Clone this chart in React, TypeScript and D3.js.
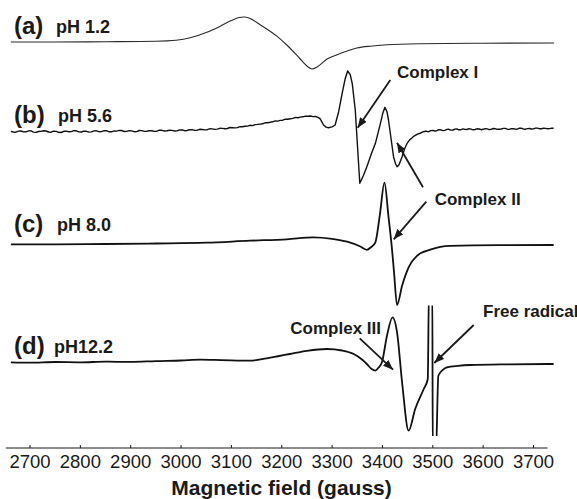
import React from "react";
import * as d3 from "d3";

// ---- Data (magnetic field in gauss, signal in arbitrary units) ----
const fieldTicks = [2700, 2800, 2900, 3000, 3100, 3200, 3300, 3400, 3500, 3600, 3700];

const specA: [number, number][] = [
  [2662, 0], [2750, 0], [2850, 0.3], [2950, 0.8], [2990, 1.8], [3020, 4.5], [3050, 9.5],
  [3077, 15.6], [3100, 21.5], [3115, 24.5], [3125, 25], [3135, 24], [3157, 17.3], [3191, 5.6],
  [3212, -4], [3235, -16], [3250, -24], [3260, -27], [3270, -25], [3290, -17], [3310, -12.7],
  [3330, -9], [3349, -6], [3380, -4], [3409, -2.7], [3475, -1.7], [3600, -1.2], [3741, -1],
];

const specB: [number, number][] = [
  [2662, 0.4], [2667, -0.3], [2672, -0.5], [2677, 0.6], [2682, 0.7], [2687, -0.2], [2692, -0.1],
  [2697, 0.8], [2702, 0.9], [2707, -0.4], [2712, -0.7], [2717, 0.2], [2722, 0.3], [2727, 0.9],
  [2732, 0.7], [2737, -0.3], [2742, -0.5], [2747, 0.5], [2752, 0.3], [2757, -0.6], [2762, -0.8],
  [2767, 0.4], [2772, 0.6], [2777, -0.1], [2782, 0.1], [2787, 1.0], [2792, 0.9], [2797, -0.2],
  [2802, -0.3], [2807, 0.6], [2812, 0.4], [2817, -0.4], [2822, -0.2], [2827, 0.8], [2832, 0.9],
  [2837, 0.0], [2842, 0.1], [2847, 1.1], [2852, 1.0], [2857, -0.1], [2862, -0.1], [2867, 0.8],
  [2872, 0.6], [2877, 1.3], [2882, 1.2], [2887, 0.2], [2892, 0.3], [2897, 1.0], [2902, 0.8],
  [2907, 0.0], [2912, 0.1], [2917, 1.2], [2922, 1.1], [2927, 0.3], [2932, 0.5], [2937, 1.1],
  [2942, 0.9], [2947, 0.3], [2952, 0.5], [2957, 1.5], [2962, 1.4], [2967, 0.7], [2972, 0.9],
  [2977, 1.5], [2982, 1.3], [2987, 0.7], [2992, 0.8], [2997, 1.8], [3002, 1.7], [3007, 1.0],
  [3012, 1.2], [3017, 2.1], [3022, 2.0], [3027, 1.3], [3032, 1.5], [3037, 2.4], [3042, 2.2],
  [3047, 1.8], [3052, 2.0], [3057, 2.9], [3062, 2.8], [3067, 2.3], [3072, 2.6], [3077, 3.4],
  [3082, 3.3], [3087, 2.9], [3092, 3.2], [3097, 4.2], [3102, 4.0], [3107, 3.8], [3112, 4.1],
  [3117, 5.0], [3122, 4.9], [3127, 5.4], [3132, 5.6], [3137, 6.4], [3142, 6.1], [3147, 7.1],
  [3152, 7.3], [3157, 7.6], [3162, 7.9], [3167, 8.9], [3172, 9.0], [3177, 9.4], [3182, 9.9],
  [3187, 10.8], [3192, 10.6], [3197, 11.3], [3202, 11.5], [3207, 12.6], [3212, 12.5], [3217, 13.0],
  [3222, 13.3], [3227, 14.3], [3232, 14.0], [3237, 14.6], [3242, 14.9], [3247, 15.6], [3252, 15.4],
  [3257, 15.7], [3262, 15.1], [3267, 15.2], [3272, 14.3],
  [3276, 13], [3280, 9.5], [3283, 6.7], [3288, 4.6], [3293, 4], [3300, 4.8], [3306, 6.7],
  [3313, 20], [3320, 38.4], [3326, 53], [3331, 60.7], [3336, 57], [3340, 48.4], [3346, 21.7],
  [3355, -51.6], [3362, -44], [3369, -35], [3378, -22], [3386, -11.6], [3396, 8.4], [3401, 19],
  [3405, 24.4], [3409, 20], [3412, 11.7], [3422, -25], [3426, -32], [3429, -35], [3433, -33],
  [3439, -25], [3444, -17], [3449, -11.6],
  [3454, -8.2], [3458, -6.5], [3462, -4.6], [3466, -3.5], [3471, -2.1], [3475, -1.6], [3479, -0.4],
  [3483, 0.2], [3487, 0.5], [3491, -0.1], [3495, 0.9], [3500, 1.3], [3504, 0.7], [3508, 1.0],
  [3512, 2.0], [3516, 1.9], [3520, 1.1], [3524, 1.3], [3528, 2.3], [3532, 2.4], [3536, 1.6],
  [3540, 1.7], [3544, 2.6], [3548, 2.7], [3552, 1.9], [3556, 2.0], [3560, 2.8], [3564, 2.3],
  [3568, 2.2], [3572, 3.0], [3576, 2.6], [3580, 1.9], [3584, 2.2], [3588, 2.9], [3592, 2.7],
  [3596, 2.0], [3600, 2.4], [3604, 3.0], [3608, 2.8], [3612, 2.1], [3616, 2.4], [3620, 3.2],
  [3624, 3.0], [3628, 2.4], [3632, 2.5], [3636, 2.7], [3640, 3.3], [3644, 3.3], [3648, 2.5],
  [3652, 2.3], [3656, 3.0], [3660, 3.1], [3664, 2.5], [3668, 2.6], [3672, 3.5], [3676, 3.5],
  [3680, 2.6], [3684, 2.5], [3688, 3.1], [3692, 3.2], [3696, 2.7], [3700, 2.8], [3704, 3.6],
  [3708, 3.6], [3712, 2.9], [3716, 3.0], [3720, 3.4], [3724, 3.3], [3728, 2.9], [3732, 3.1],
  [3736, 3.6], [3740, 3.4],
];

const specC: [number, number][] = [
  [2662, 0], [2750, 0], [2850, 0.3], [2950, 0.8], [3050, 1.6], [3137, 3.6], [3210, 5],
  [3263, 7], [3300, 5.5], [3330, 2.6], [3355, -2], [3369, -5.5], [3377, -3], [3386, 2],
  [3395, 30], [3404, 61.6], [3412, 27.6], [3419, -5], [3423, -28], [3429, -60.7], [3439, -41.4],
  [3452, -23], [3469, -11.4], [3495, -5.4], [3534, -1.5], [3633, -0.8], [3740, -0.7],
];

const specD: [number, number][] = [
  [2662, 0], [2700, -0.3], [2750, 0.3], [2800, 0], [2850, 0.6], [2900, 0.4], [2950, 1.2],
  [3000, 1.8], [3038, 2.6], [3080, 2.2], [3137, 1.6], [3170, 4], [3190, 5.8], [3216, 8.3],
  [3250, 11.5], [3290, 13.3], [3320, 11.8], [3343, 8.3], [3360, 2.5], [3369, -1.7], [3378, -6.5],
  [3386, -8.4], [3392, -5.5], [3399, 0], [3409, 26.6], [3420, 45], [3429, 30], [3439, -20],
  [3452, -68.4], [3465, -46.7], [3482, -26.7], [3490, -16.7], [3492.5, 75], [3499, 75],
  [3500, -95], [3506, -95], [3511, -13.4], [3520, -7.5], [3528, -5], [3550, -3.5], [3574, -2.7],
  [3650, -2], [3740, -1.7],
];

const spectra = [specA, specB, specC, specD];
const offsets = [406, 316.3, 203.7, 85.7];
const widths = [1.1, 1.4, 1.8, 1.8];
const letters = ["(a)", "(b)", "(c)", "(d)"];
const phLabels = ["pH 1.2", "pH 5.6", "pH 8.0", "pH12.2"];

const annotations = [
  { text: "Complex I", x: 397, y: 78.3, arrows: [[390.3, 80, 357.7, 127.7]] },
  { text: "Complex II", x: 434.7, y: 205, arrows: [[423, 187.3, 397, 142.7], [426.3, 201.7, 393.7, 239.3]] },
  { text: "Complex III", x: 290.3, y: 334, arrows: [[359.7, 338.3, 393, 369.7]] },
  { text: "Free radical", x: 483, y: 317.3, arrows: [[473.7, 325, 434.3, 363]] },
];

const W = 577;
const H = 499;
const axisY = 448;
const FONT = "'Liberation Sans', Arial, Helvetica, sans-serif";

export default function App() {
  const x = d3.scaleLinear().domain([2700, 3700]).range([30, 533.5]);
  const y = d3.scaleLinear().domain([0, 448]).range([448, 0]);

  const labelY = [34, 123, 232, 354];
  const phX = [56, 58, 57, 54];

  return (
    <svg
      width={W}
      height={H}
      viewBox={`0 0 ${W} ${H}`}
      style={{ position: "absolute", left: 0, top: 0, background: "#fff" }}
      fontFamily={FONT}
    >
      <defs>
        <clipPath id="clipD">
          <rect x={0} y={305.5} width={W} height={436 - 305.5} />
        </clipPath>
        <marker id="arrow" viewBox="0 0 10 8" refX={10} refY={4} markerWidth={10} markerHeight={8}
          markerUnits="userSpaceOnUse" orient="auto">
          <path d="M0,0 L10,4 L0,8 Z" fill="#1a1a1a" />
        </marker>
      </defs>

      {spectra.map((s, i) => {
        const line = d3
          .line<[number, number]>()
          .x((d) => x(d[0]))
          .y((d) => y(offsets[i] + d[1]))
          .curve(i === 1 ? d3.curveLinear : d3.curveMonotoneX);
        return (
          <path
            key={i}
            d={line(s) || ""}
            fill="none"
            stroke={i === 0 ? "#2a2a2a" : "#111"}
            strokeWidth={widths[i]}
            strokeLinejoin="round"
            clipPath={i === 3 ? "url(#clipD)" : undefined}
          />
        );
      })}

      {letters.map((l, i) => (
        <g key={l}>
          <text x={14} y={labelY[i]} fontSize={24} fontWeight="bold" fill="#1a1a1a">{l}</text>
          <text x={phX[i]} y={labelY[i] - 1} fontSize={18} fontWeight="bold" fill="#1a1a1a">{phLabels[i]}</text>
        </g>
      ))}

      {annotations.map((a) => (
        <g key={a.text}>
          <text x={a.x} y={a.y} fontSize={17} fontWeight="bold" fill="#1a1a1a">{a.text}</text>
          {a.arrows.map((ar, j) => (
            <line key={j} x1={ar[0]} y1={ar[1]} x2={ar[2]} y2={ar[3]} stroke="#1a1a1a"
              strokeWidth={1.8} markerEnd="url(#arrow)" />
          ))}
        </g>
      ))}

      {/* axis */}
      <line x1={x(2652)} x2={x(3728)} y1={axisY} y2={axisY} stroke="#1a1a1a" strokeWidth={1.2} />
      {fieldTicks.map((t) => (
        <g key={t}>
          <line x1={x(t)} x2={x(t)} y1={axisY} y2={axisY - 3} stroke="#1a1a1a" strokeWidth={1} />
          <text x={x(t)} y={468} fontSize={18.5} textAnchor="middle" fill="#1a1a1a">{t}</text>
        </g>
      ))}
      <text x={281.5} y={495} fontSize={21} fontWeight="bold" textAnchor="middle" fill="#1a1a1a">
        Magnetic field (gauss)
      </text>
    </svg>
  );
}
